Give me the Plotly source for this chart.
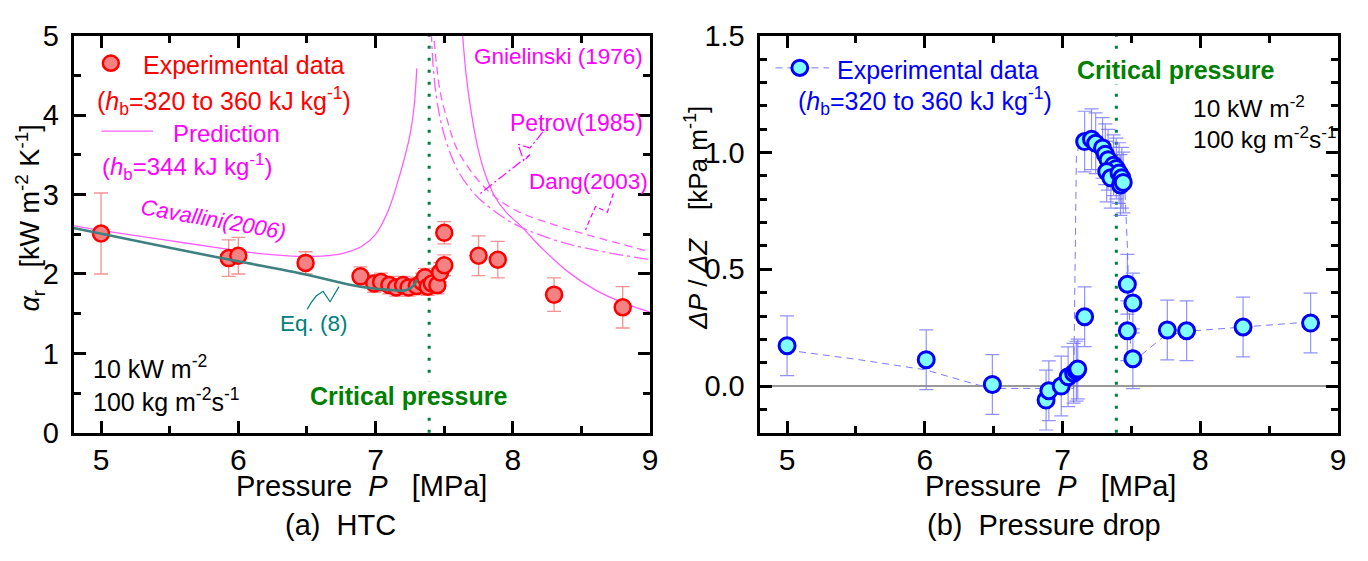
import plotly.graph_objects as go

W, H = 1368, 561
FONT = "Liberation Sans, Arial, sans-serif"
NB = "\u00a0"

# ---------------- data: (a) HTC ----------------
htc_p = [5.00, 5.93, 6.00, 6.49, 6.89, 6.99, 7.04, 7.10, 7.15, 7.20, 7.24, 7.30, 7.34, 7.36,
         7.38, 7.41, 7.45, 7.47, 7.50, 7.50, 7.75, 7.89, 8.30, 8.80]
htc_a = [2.51, 2.20, 2.23, 2.14, 1.97, 1.88, 1.90, 1.86, 1.83, 1.86, 1.83, 1.85, 1.90, 1.96,
         1.84, 1.88, 1.86, 2.02, 2.11, 2.52, 2.23, 2.18, 1.74, 1.58]
htc_ey = [0.51, 0.23, 0.23, 0.14, 0.12, 0.11, 0.11, 0.11, 0.11, 0.11, 0.11, 0.11, 0.11, 0.11,
          0.11, 0.11, 0.11, 0.12, 0.13, 0.14, 0.25, 0.23, 0.21, 0.26]
htc_ex = [0, 0, 0, 0, 0.04, 0.04, 0.04, 0.04, 0.04, 0.04, 0.04, 0.04, 0.04, 0.04,
          0.04, 0.04, 0.04, 0.04, 0.04, 0.04, 0, 0, 0, 0]

cav_p = [4.80, 5.00, 5.50, 5.93, 6.20, 6.49, 6.70, 6.80, 6.90, 7.00, 7.09, 7.18, 7.25, 7.28, 7.30]
cav_a = [2.61, 2.55, 2.42, 2.31, 2.25, 2.22, 2.24, 2.28, 2.35, 2.50, 2.79, 3.27, 3.75, 4.10, 4.59]

gni_p = [7.63, 7.66, 7.70, 7.75, 7.80, 7.87, 7.95, 8.06, 8.22, 8.40, 8.60, 8.80, 9.00]
gni_a = [5.10, 4.50, 4.00, 3.55, 3.25, 2.97, 2.78, 2.60, 2.31, 2.03, 1.80, 1.64, 1.52]

pet_p = [7.405, 7.42, 7.45, 7.50, 7.60, 7.73, 7.80, 8.00, 8.30, 8.60, 9.00]
pet_a = [5.10, 4.60, 4.15, 3.75, 3.30, 2.99, 2.88, 2.64, 2.43, 2.30, 2.18]

dang_p = [7.42, 7.44, 7.47, 7.52, 7.60, 7.80, 8.00, 8.30, 8.57, 9.00]
dang_a = [5.10, 4.70, 4.30, 3.95, 3.55, 3.08, 2.82, 2.62, 2.48, 2.28]

eq8_p = [4.80, 5.50, 6.00, 6.50, 6.89, 7.10, 7.20, 7.25, 7.28, 7.30]
eq8_a = [2.58, 2.33, 2.16, 1.99, 1.84, 1.80, 1.79, 1.82, 1.86, 1.93]

# ---------------- data: (b) pressure drop ----------------
dp_p = [5.00, 6.01, 6.49, 6.88, 6.90, 6.99, 7.04, 7.08, 7.10, 7.11, 7.16,
        7.16, 7.21, 7.24, 7.29, 7.31, 7.33, 7.37, 7.39, 7.32, 7.35, 7.41, 7.43, 7.42, 7.44,
        7.47, 7.51, 7.47, 7.51, 7.76, 7.90, 8.31, 8.80]
dp_v = [0.173, 0.113, 0.007, -0.060, -0.020, 0.000, 0.040, 0.055, 0.064, 0.073, 0.297,
        1.047, 1.057, 1.040, 1.020, 0.993, 0.969, 0.946, 0.932, 0.919, 0.892, 0.912, 0.892, 0.861, 0.872,
        0.436, 0.356, 0.237, 0.117, 0.240, 0.237, 0.253, 0.270]
dp_ey = [0.128] * 11 + [0.13] * 14 + [0.128] * 8
dp_ex = [0] * 11 + [0.04] * 14 + [0] * 8

trend_p = [5.00, 5.50, 6.00, 6.39, 6.51, 6.89, 7.08, 7.10, 7.12, 7.17, 7.22, 7.28, 7.34, 7.40,
           7.45, 7.47, 7.49, 7.51, 7.73, 7.89, 8.30, 8.80]
trend_v = [0.154, 0.115, 0.070, 0.004, -0.010, -0.010, -0.010, 0.980, 1.035, 1.052, 1.048, 1.010,
           0.960, 0.910, 0.870, 0.600, 0.200, 0.104, 0.210, 0.234, 0.253, 0.275]

P_CRIT = 7.39
XT = [5, 6, 7, 8, 9]

# ---------------- layout helpers ----------------
def px(x):
    return x / W

def py(y):
    return 1 - y / H

XD1 = [px(74), px(654)]
XD2 = [px(764), px(1346)]
YD = [py(442), py(21)]

RED = "#ff0000"
MAG = "#ff00ff"
MAGL = "#ff5cff"
BLUE = "#0000ff"
GREEN = "#008000"
TEAL = "#008080"

fig = go.Figure()

# ---- panel (a) ----
fig.add_trace(go.Scatter(x=cav_p, y=cav_a, mode="lines", line=dict(color=MAGL, width=1.3, shape="spline"),
                         xaxis="x", yaxis="y", showlegend=False))
fig.add_trace(go.Scatter(x=gni_p, y=gni_a, mode="lines", line=dict(color=MAGL, width=1.3, shape="spline"),
                         xaxis="x", yaxis="y", showlegend=False))
fig.add_trace(go.Scatter(x=pet_p, y=pet_a, mode="lines",
                         line=dict(color=MAGL, width=1.3, dash="14px,4px,3px,4px", shape="spline"),
                         xaxis="x", yaxis="y", showlegend=False))
fig.add_trace(go.Scatter(x=dang_p, y=dang_a, mode="lines",
                         line=dict(color=MAGL, width=1.3, dash="8px,5px", shape="spline"),
                         xaxis="x", yaxis="y", showlegend=False))
fig.add_trace(go.Scatter(x=htc_p, y=htc_a, mode="markers",
                         marker=dict(size=16, color="#f58282", line=dict(color=RED, width=2.5)),
                         error_y=dict(type="data", array=htc_ey, color="rgba(240,110,110,0.75)", thickness=1.3, width=7),
                         error_x=dict(type="data", array=htc_ex, color="rgba(240,110,110,0.75)", thickness=1.3, width=5),
                         xaxis="x", yaxis="y", showlegend=False))
fig.add_trace(go.Scatter(x=eq8_p, y=eq8_a, mode="lines", line=dict(color="#3f8080", width=2.6, shape="spline"),
                         xaxis="x", yaxis="y", showlegend=False))

# ---- panel (b) ----
fig.add_trace(go.Scatter(x=trend_p, y=trend_v, mode="lines",
                         line=dict(color="#7a7aff", width=1, dash="7px,5px"),
                         xaxis="x2", yaxis="y2", showlegend=False))
fig.add_trace(go.Scatter(x=dp_p, y=dp_v, mode="markers",
                         marker=dict(size=16, color="#80ffff", line=dict(color=BLUE, width=3)),
                         error_y=dict(type="data", array=dp_ey, color="rgba(110,110,255,0.75)", thickness=1.2, width=7),
                         error_x=dict(type="data", array=dp_ex, color="rgba(110,110,255,0.75)", thickness=1.2, width=5),
                         xaxis="x2", yaxis="y2", showlegend=False))

axis_common = dict(showline=True, linewidth=3, linecolor="black", mirror="ticks",
                   ticks="inside", ticklen=12, tickwidth=2.5, tickcolor="black",
                   showgrid=False, zeroline=False)
XFONT = dict(family=FONT, size=30, color="black")
YFONT = dict(family=FONT, size=29, color="black")
minor_x = dict(dtick=0.5, tick0=5, ticklen=7, tickwidth=2.5, ticks="inside", tickcolor="black")

fig.update_layout(
    width=W, height=H, margin=dict(l=0, r=0, t=0, b=0),
    paper_bgcolor="white", plot_bgcolor="white",
    font=dict(family=FONT, color="black"),
    xaxis=dict(domain=XD1, range=[4.8, 9.0], tickvals=XT, anchor="y", minor=minor_x,
               ticklabelstandoff=-2, tickfont=XFONT, **axis_common),
    yaxis=dict(domain=YD, range=[0, 5], dtick=1, anchor="x",
               minor=dict(dtick=0.5, ticklen=7, tickwidth=2.5, ticks="inside", tickcolor="black"),
               ticklabelstandoff=6, tickfont=YFONT, **axis_common),
    xaxis2=dict(domain=XD2, range=[4.8, 9.0], tickvals=XT, anchor="y2", minor=minor_x,
                ticklabelstandoff=-2, tickfont=XFONT, **axis_common),
    yaxis2=dict(domain=YD, range=[-0.2, 1.5], dtick=0.5, tickformat=".1f", anchor="x2",
                minor=dict(dtick=0.1, tick0=0, ticklen=7, tickwidth=2.5, ticks="inside", tickcolor="black"),
                ticklabelstandoff=6, tickfont=YFONT, **axis_common),
)

shapes = []
# critical pressure lines
for xr, yr in (("x", "y domain"), ("x2", "y2 domain")):
    shapes.append(dict(type="line", xref=xr, yref=yr, x0=P_CRIT, x1=P_CRIT, y0=0, y1=1,
                       line=dict(color="#008040", width=3, dash="3px,9px"), layer="below"))
# zero line (b)
shapes.append(dict(type="line", xref="x2 domain", yref="y2", x0=0, x1=1, y0=0, y1=0,
                   line=dict(color="#777777", width=1.5), layer="below"))

def path(pts):
    return "M " + " L ".join(f"{px(x):.5f},{py(y):.5f}" for x, y in pts)

# leaders
shapes.append(dict(type="path", xref="paper", yref="paper",
                   path=path([(546, 123), (533, 140), (521, 136), (527, 154), (533, 147), (481, 190)]),
                   line=dict(color=MAG, width=1.2, dash="10px,3px,2px,3px")))
shapes.append(dict(type="path", xref="paper", yref="paper",
                   path=path([(617, 188), (611, 208), (599, 202), (594, 214), (589, 227)]),
                   line=dict(color=MAG, width=1.2, dash="5px,3px")))
shapes.append(dict(type="path", xref="paper", yref="paper",
                   path=path([(341, 287), (332, 303), (325, 292), (318, 297), (313, 304), (309, 311)]),
                   line=dict(color=TEAL, width=1.2)))
# legend samples (a)
shapes.append(dict(type="circle", xref="paper", yref="paper",
                   x0=px(103.5), x1=px(119.5), y0=py(58), y1=py(42),
                   fillcolor="#f58282", line=dict(color=RED, width=2.5)))
shapes.append(dict(type="line", xref="paper", yref="paper",
                   x0=px(102), x1=px(154), y0=py(122), y1=py(122),
                   line=dict(color=MAGL, width=1.3)))
# legend samples (b)
shapes.append(dict(type="line", xref="paper", yref="paper",
                   x0=px(780), x1=px(834), y0=py(55), y1=py(55),
                   line=dict(color="#7a7aff", width=1, dash="7px,5px")))
shapes.append(dict(type="circle", xref="paper", yref="paper",
                   x0=px(796.5), x1=px(812.5), y0=py(63), y1=py(47),
                   fillcolor="#80ffff", line=dict(color=BLUE, width=3)))
fig.update_layout(shapes=shapes)

ann = []
def text(x, y, s, color="black", size=25, xanchor="center", angle=0, bg=None):
    d = dict(x=px(x), y=py(y), xref="paper", yref="paper", text=s, showarrow=False,
             xanchor=xanchor, yanchor="middle", textangle=angle, borderpad=0,
             font=dict(family=FONT, size=size, color=color))
    if bg:
        d["bgcolor"] = bg
    ann.append(d)

SUP1 = "<sup>-1</sup>"
SUP2 = "<sup>-2</sup>"
HB = "(<i>h</i><sub>b</sub>="
# panel (a) texts
text(245, 52, "Experimental data", RED)
text(225, 90, HB + "320 to 360 kJ kg" + SUP1 + ")", RED)
text(228, 125, "Prediction", MAG, size=24)
text(188, 160, HB + "344 kJ kg" + SUP1 + ")", MAG, size=24)
text(215, 216, "<i>Cavallini(2006)</i>", MAG, size=22, angle=10)
text(562, 43, "Gnielinski (1976)", MAG, size=22.5)
text(580, 113, "Petrov(1985)", MAG, size=23)
text(592, 175, "Dang(2003)", MAG, size=22.5)
text(316, 326, "Eq. (8)", TEAL, size=22.5)
text(93, 372, "10 kW m" + SUP2, "black", xanchor="left")
text(93, 407, "100 kg m" + SUP2 + "s" + SUP1, "black", xanchor="left")
text(411, 403, "<b>Critical pressure</b>", GREEN, bg="white")
text(364, 498, "Pressure" + NB * 2 + "<i>P</i>" + NB * 3 + "[MPa]", "black", size=29)
text(342, 540, "(a)" + NB * 2 + "HTC", "black", size=29)
text(30, 214, "<i>α</i><sub>r</sub>" + NB * 3 + "[kW m" + SUP2 + " K" + SUP1 + "]", "black", size=27, angle=-90)
# panel (b) texts
text(944, 57, "Experimental data", BLUE)
text(930, 90, HB + "320 to 360 kJ kg" + SUP1 + ")", BLUE)
text(1182, 57, "<b>Critical pressure</b>", GREEN, bg="white")
text(1199, 96, "10 kW m" + SUP2, "black", size=24.5, xanchor="left")
text(1199, 129, "100 kg m" + SUP2 + "s" + SUP1, "black", size=24.5, xanchor="left")
text(1057, 498, "Pressure" + NB * 2 + "<i>P</i>" + NB * 3 + "[MPa]", "black", size=29)
text(1050, 540, "(b)" + NB * 2 + "Pressure drop", "black", size=29)
text(701, 214, "<i>ΔP</i>" + NB + "/" + NB + "<i>ΔZ</i>" + NB * 4 + "[kPa" + NB + "m" + SUP1 + "]", "black", size=26, angle=-90)
fig.update_layout(annotations=ann)

fig.write_html("out.html")
